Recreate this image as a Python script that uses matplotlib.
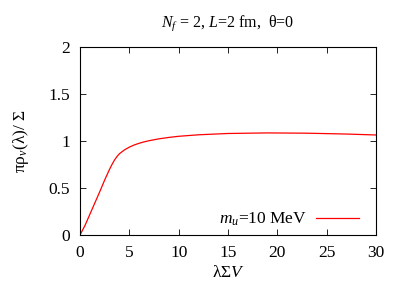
import matplotlib
matplotlib.use("Agg")
from matplotlib import pyplot as plt

# spectral density
lam = [0, 0.5, 1, 1.5, 2, 2.5, 3, 3.25, 3.5, 3.75, 4, 4.5, 5, 5.5, 6, 6.5, 7, 8, 9, 10,
       12, 15, 19, 23, 27, 30]
rho = [0, 0.10, 0.22, 0.34, 0.46, 0.585, 0.70, 0.752, 0.798, 0.835, 0.865, 0.905, 0.935, 0.958,
       0.976, 0.991, 1.003, 1.023, 1.038, 1.05, 1.066, 1.08, 1.086, 1.083, 1.074, 1.064]
x_ticks = [0, 5, 10, 15, 20, 25, 30]
y_ticks = [0, 0.5, 1, 1.5, 2]
y_tick_labels = ["0", "0.5", "1", "1.5", "2"]

plt.rcParams["font.family"] = ["Liberation Serif", "DejaVu Serif"]
plt.rcParams["mathtext.fontset"] = "custom"
plt.rcParams["mathtext.rm"] = "Liberation Serif"
plt.rcParams["mathtext.it"] = "Liberation Serif:italic"
plt.rcParams["font.size"] = 12.5

figure = plt.figure(figsize=(4.03, 2.82), dpi=100)
ax = figure.add_axes([80 / 403, 47 / 282, 296 / 403, 188 / 282])
ax.plot(lam, rho, color="red", linewidth=0.9, label=r"$m_u$=10 MeV")
ax.set_xlim(0, 30)
ax.set_ylim(0, 2)
ax.set_xticks(x_ticks)
ax.set_yticks(y_ticks)
ax.set_yticklabels(y_tick_labels)
ax.tick_params(direction="in", top=True, right=True, length=4, width=0.6, pad=7)
for spine in ax.spines.values():
    spine.set_linewidth(0.8)
ax.set_title(r"$N_f$ = 2, $L$=2 fm,  θ=0", fontsize=11.5, pad=15)
ax.set_xlabel(r"λΣ$V$", labelpad=3)
ax.set_ylabel(r"πρ$_{\nu}$(λ)/ Σ", labelpad=13)
ax.legend(loc="lower right", frameon=False, markerfirst=False, handlelength=2.5,
          borderaxespad=0.3, borderpad=0.1, handletextpad=0.5,
          bbox_to_anchor=(0.966, 0.0))
figure.savefig("out.png", dpi=100)
